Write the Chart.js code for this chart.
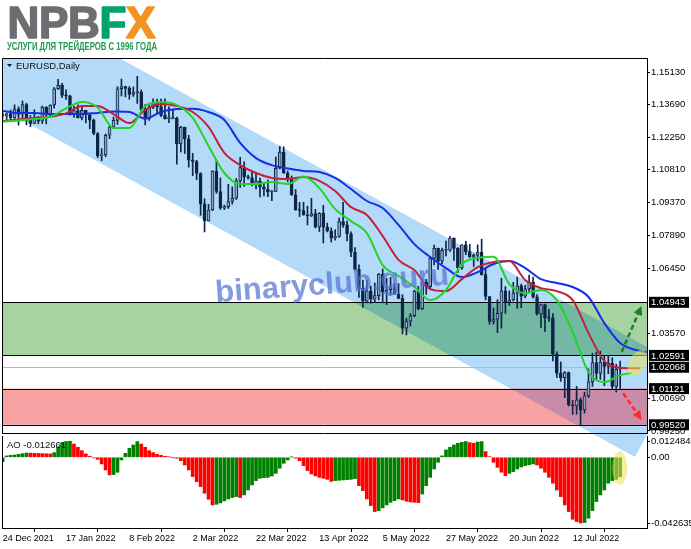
<!DOCTYPE html>
<html>
<head>
<meta charset="utf-8">
<title>EURUSD Daily</title>
<script src="https://cdn.jsdelivr.net/npm/chart.js@4.4.1/dist/chart.umd.min.js"></script>
<style>
  html, body { margin: 0; padding: 0; background: #fff; }
  #wrap { position: relative; width: 691px; height: 549px; overflow: hidden; }
  #wrap canvas { position: absolute; left: 0; top: 0; }
</style>
</head>
<body>
<div id="wrap">
  <canvas id="priceChart" width="691" height="549"></canvas>
  <canvas id="aoChart" width="691" height="549"></canvas>
</div>
<script>
const FONT = '"Liberation Sans", Arial, sans-serif';
Chart.defaults.font.family = FONT;

// x axis: bar index, labels every 16 bars
const dateTickBars = [0, 16, 32, 48, 64, 80, 96, 112, 128, 144];
const dateLabels = ["24 Dec 2021", "17 Jan 2022", "8 Feb 2022", "2 Mar 2022", "22 Mar 2022",
                    "13 Apr 2022", "5 May 2022", "27 May 2022", "20 Jun 2022", "12 Jul 2022"];

const priceTicks = [1.15130, 1.13690, 1.12250, 1.10810, 1.09370, 1.07890, 1.06450, 1.03570, 1.00690, 0.99250];
const levelPrices = [1.04943, 1.02591, 1.02068, 1.01121, 0.99520];

// daily candles, 24 Dec 2021 .. 28 Jul 2022
const opens = [
  1.1328,1.1319,1.1330,1.1311,1.1350,1.1327,1.1370,1.1300,1.1287,1.1313,
  1.1296,1.1359,1.1324,1.1368,1.1440,1.1455,1.1411,1.1408,1.1325,1.1344,
  1.1311,1.1345,1.1325,1.1301,1.1242,1.1143,1.1147,1.1234,1.1271,1.1300,
  1.1440,1.1450,1.1442,1.1415,1.1423,1.1425,1.1349,1.1306,1.1358,1.1374,
  1.1361,1.1322,1.1308,1.1308,1.1309,1.1196,1.1270,1.1218,1.1124,1.1118,
  1.1065,1.0930,1.0855,1.0903,1.1075,1.0985,1.0911,1.0918,1.0941,1.0955,
  1.1032,1.1091,1.1050,1.1046,1.1015,1.1031,1.1005,1.0995,1.0983,1.0985,
  1.1088,1.1160,1.1067,1.1046,1.0970,1.0903,1.0901,1.0881,1.0877,1.0887,
  1.0828,1.0888,1.0827,1.0810,1.0780,1.0786,1.0852,1.0837,1.0798,1.0716,
  1.0640,1.0556,1.0499,1.0545,1.0508,1.0524,1.0619,1.0540,1.0550,1.0560,
  1.0530,1.0512,1.0380,1.0411,1.0435,1.0544,1.0465,1.0584,1.0564,1.0689,
  1.0733,1.0677,1.0725,1.0725,1.0779,1.0733,1.0647,1.0749,1.0719,1.0695,
  1.0703,1.0716,1.0617,1.0520,1.0410,1.0420,1.0446,1.0545,1.0495,1.0505,
  1.0535,1.0567,1.0522,1.0554,1.0584,1.0519,1.0443,1.0484,1.0426,1.0424,
  1.0265,1.0181,1.0161,1.0183,1.0040,1.0035,1.0062,1.0018,1.0080,1.0142,
  1.0228,1.0179,1.0230,1.0211,1.0224,1.0122,1.0198
];
const highs = [
  1.1335,1.1333,1.1346,1.1369,1.1360,1.1386,1.1376,1.1322,1.1347,1.1318,
  1.1364,1.1361,1.1369,1.1445,1.1482,1.1464,1.1435,1.1412,1.1363,1.1369,
  1.1363,1.1345,1.1330,1.1306,1.1246,1.1175,1.1240,1.1274,1.1315,1.1449,
  1.1483,1.1452,1.1450,1.1448,1.1495,1.1435,1.1370,1.1368,1.1395,1.1394,
  1.1394,1.1395,1.1360,1.1346,1.1315,1.1274,1.1270,1.1234,1.1154,1.1123,
  1.1068,1.0953,1.0928,1.1077,1.1121,1.1045,1.0925,1.1017,1.1006,1.1043,
  1.1137,1.1116,1.1058,1.1071,1.1069,1.1045,1.1023,1.1036,1.0990,1.1138,
  1.1185,1.1183,1.1076,1.1054,1.0994,1.0937,1.0937,1.0920,1.0955,1.0906,
  1.0891,1.0924,1.0845,1.0824,1.0816,1.0867,1.0937,1.0854,1.0806,1.0737,
  1.0660,1.0593,1.0593,1.0566,1.0580,1.0622,1.0642,1.0600,1.0605,1.0578,
  1.0577,1.0528,1.0424,1.0444,1.0548,1.0565,1.0598,1.0596,1.0697,1.0748,
  1.0735,1.0735,1.0765,1.0787,1.0780,1.0737,1.0750,1.0765,1.0751,1.0709,
  1.0749,1.0774,1.0645,1.0520,1.0469,1.0506,1.0601,1.0564,1.0545,1.0583,
  1.0606,1.0575,1.0570,1.0615,1.0606,1.0529,1.0486,1.0487,1.0463,1.0445,
  1.0275,1.0230,1.0188,1.0186,1.0060,1.0122,1.0071,1.0097,1.0200,1.0269,
  1.0274,1.0278,1.0257,1.0257,1.0249,1.0220,1.0234
];
const lows = [
  1.1309,1.1302,1.1297,1.1300,1.1279,1.1300,1.1280,1.1272,1.1285,1.1285,
  1.1286,1.1285,1.1314,1.1354,1.1437,1.1401,1.1393,1.1323,1.1313,1.1311,
  1.1302,1.1289,1.1263,1.1236,1.1135,1.1121,1.1139,1.1219,1.1263,1.1282,
  1.1408,1.1404,1.1394,1.1406,1.1375,1.1330,1.1280,1.1300,1.1352,1.1331,
  1.1316,1.1305,1.1290,1.1306,1.1106,1.1160,1.1153,1.1093,1.1055,1.1037,
  1.0880,1.0806,1.0855,1.0900,1.0977,1.0906,1.0905,1.0910,1.0929,1.0950,
  1.1003,1.1008,1.1040,1.1010,1.0996,1.0961,1.0966,1.0962,1.0945,1.0985,
  1.1085,1.1065,1.1028,1.0968,1.0902,1.0874,1.0880,1.0837,1.0874,1.0823,
  1.0808,1.0757,1.0806,1.0761,1.0770,1.0782,1.0826,1.0766,1.0697,1.0636,
  1.0516,1.0472,1.0492,1.0490,1.0494,1.0505,1.0492,1.0484,1.0526,1.0530,
  1.0510,1.0354,1.0350,1.0389,1.0430,1.0461,1.0462,1.0530,1.0555,1.0660,
  1.0640,1.0665,1.0700,1.0720,1.0680,1.0627,1.0640,1.0705,1.0693,1.0653,
  1.0678,1.0615,1.0505,1.0397,1.0398,1.0360,1.0380,1.0445,1.0480,1.0500,
  1.0468,1.0470,1.0514,1.0540,1.0513,1.0437,1.0383,1.0365,1.0410,1.0235,
  1.0162,1.0144,1.0072,1.0035,0.9998,0.9999,0.9952,1.0004,1.0072,1.0122,
  1.0154,1.0153,1.0125,1.0178,1.0111,1.0097,1.0113
];
const closes = [
  1.1322,1.1330,1.1311,1.1350,1.1326,1.1370,1.1299,1.1287,1.1313,1.1296,
  1.1359,1.1324,1.1368,1.1440,1.1455,1.1411,1.1408,1.1325,1.1344,1.1311,
  1.1345,1.1325,1.1301,1.1242,1.1143,1.1147,1.1234,1.1271,1.1300,1.1440,
  1.1450,1.1442,1.1415,1.1423,1.1425,1.1349,1.1306,1.1358,1.1374,1.1361,
  1.1322,1.1308,1.1308,1.1309,1.1196,1.1270,1.1218,1.1124,1.1118,1.1065,
  1.0930,1.0855,1.0903,1.1075,1.0985,1.0911,1.0918,1.0941,1.0955,1.1032,
  1.1091,1.1050,1.1046,1.1015,1.1031,1.1005,1.0995,1.0983,1.0985,1.1088,
  1.1160,1.1067,1.1046,1.0970,1.0903,1.0901,1.0881,1.0877,1.0887,1.0828,
  1.0888,1.0827,1.0810,1.0780,1.0786,1.0852,1.0837,1.0798,1.0716,1.0640,
  1.0556,1.0499,1.0545,1.0508,1.0524,1.0619,1.0540,1.0550,1.0560,1.0530,
  1.0512,1.0380,1.0411,1.0435,1.0544,1.0465,1.0584,1.0564,1.0689,1.0733,
  1.0677,1.0725,1.0725,1.0779,1.0733,1.0647,1.0749,1.0719,1.0695,1.0703,
  1.0716,1.0617,1.0520,1.0410,1.0420,1.0446,1.0545,1.0495,1.0505,1.0535,
  1.0567,1.0522,1.0554,1.0584,1.0519,1.0443,1.0484,1.0426,1.0424,1.0265,
  1.0181,1.0161,1.0183,1.0040,1.0035,1.0062,1.0018,1.0080,1.0142,1.0228,
  1.0179,1.0230,1.0211,1.0224,1.0122,1.0198,1.0207
];

// alligator lines (bar index, price)
const jawBars = [0,4,8,12,16,20,24,28,32,36,40,44,48,52,56,60,64,68,72,76,80,84,88,92,96,100,104,108,112,116,120,124,128,132,136,140,144,148,152,156,160,164];
const jawVals = [1.1342,1.1333,1.1333,1.1328,1.1328,1.1328,1.1333,1.1339,1.1337,1.1308,1.1337,1.1350,1.1352,1.1337,1.1302,1.1200,1.1133,1.1102,1.1087,1.1076,1.1071,1.1045,1.0996,1.0943,1.0912,1.0837,1.0752,1.0695,1.0646,1.0606,1.0628,1.0664,1.0677,1.0646,1.0597,1.0580,1.0562,1.0518,1.0402,1.0314,1.0283,1.0270];
const teethBars = [0,4,8,12,16,20,24,28,32,36,40,44,48,52,56,60,64,68,72,76,80,84,88,92,96,100,104,108,112,116,120,124,128,132,136,140,144,148,152,156,161];
const teethVals = [1.1297,1.1304,1.1311,1.1316,1.1331,1.1364,1.1364,1.1328,1.1288,1.1346,1.1373,1.1364,1.1337,1.1271,1.1156,1.1102,1.1067,1.1045,1.1040,1.1049,1.1032,1.0987,1.0916,1.0881,1.0788,1.0682,1.0637,1.0553,1.0544,1.0597,1.0650,1.0673,1.0677,1.0593,1.0557,1.0544,1.0504,1.0358,1.0234,1.0205,1.0202];
const lipsBars = [0,4,8,12,16,20,24,28,32,36,40,44,48,52,56,60,64,68,72,76,80,84,88,92,96,100,104,108,112,116,120,124,128,132,136,140,144,148,152,156,159];
const lipsVals = [1.1294,1.1300,1.1306,1.1316,1.1353,1.1381,1.1357,1.1266,1.1266,1.1364,1.1381,1.1368,1.1311,1.1187,1.1067,1.1018,1.1018,1.1027,1.1018,1.1051,1.1000,1.0907,1.0854,1.0801,1.0659,1.0611,1.0562,1.0504,1.0549,1.0664,1.0690,1.0696,1.0575,1.0535,1.0549,1.0504,1.0363,1.0185,1.0141,1.0172,1.0181];

// Awesome Oscillator histogram
const aoValues = [
  -0.0028, 0.0009, 0.0013, 0.0015, 0.0019, 0.0024, 0.0028, 0.0027, 0.0026, 0.0025,
   0.0024, 0.0023, 0.0022, 0.0030, 0.0069, 0.0095, 0.0102, 0.0104, 0.0086, 0.0065,
   0.0043, 0.0022, 0.0006,-0.0004,-0.0013,-0.0043,-0.0082,-0.0114,-0.0112,-0.0097,
  -0.0017, 0.0026, 0.0058, 0.0080, 0.0102, 0.0086, 0.0065, 0.0043, 0.0030, 0.0019,
   0.0013, 0.0006, 0.0002,-0.0002,-0.0006,-0.0022,-0.0050,-0.0082,-0.0125,-0.0158,
  -0.0190,-0.0233,-0.0272,-0.0309,-0.0305,-0.0296,-0.0283,-0.0270,-0.0261,-0.0255,
  -0.0261,-0.0244,-0.0212,-0.0179,-0.0151,-0.0136,-0.0132,-0.0130,-0.0121,-0.0104,
  -0.0071,-0.0039,-0.0017, 0.0002,-0.0006,-0.0022,-0.0054,-0.0086,-0.0108,-0.0121,
  -0.0130,-0.0136,-0.0143,-0.0156,-0.0151,-0.0149,-0.0147,-0.0145,-0.0143,-0.0138,
  -0.0184,-0.0216,-0.0270,-0.0313,-0.0352,-0.0346,-0.0328,-0.0309,-0.0292,-0.0281,
  -0.0270,-0.0276,-0.0285,-0.0289,-0.0292,-0.0294,-0.0238,-0.0184,-0.0130,-0.0076,
  -0.0032, 0.0009, 0.0048, 0.0065, 0.0080, 0.0091, 0.0097, 0.0102, 0.0095, 0.0091,
   0.0099, 0.0102, 0.0037, 0.0004,-0.0032,-0.0065,-0.0097,-0.0119,-0.0104,-0.0093,
  -0.0076,-0.0063,-0.0054,-0.0048,-0.0043,-0.0050,-0.0071,-0.0097,-0.0130,-0.0168,
  -0.0212,-0.0255,-0.0309,-0.0352,-0.0402,-0.0417,-0.0426,-0.0423,-0.0395,-0.0346,
  -0.0287,-0.0244,-0.0212,-0.0168,-0.0151,-0.0143,-0.0127
];
// terminal pins the max/min captions inside the window
const aoTicks = [0.0101, 0, -0.042635];
const aoTickLabels = ["0.012484", "0.00", "-0.042635"];

// drawn objects, anchored in (bar, price)
const channelBars = [-13.3, 172.0, 159.75, -13.3];
const channelPrices = [1.1986, 1.02083, 0.98093, 1.14767];
const buyZone = [1.02591, 1.04943];
const sellZone = [0.99520, 1.01121];
const upArrow = { bars: [156.4, 161.4], prices: [1.02756, 1.0478] };
const downArrow = { bars: [156.8, 161.4], prices: [1.00914, 0.99731] };
const markMain = { bar: 160.4, price: 1.02256 };
const markAO = { bar: 155.9, value: -0.0069 };

const X_MIN = -0.177, X_MAX = 162.78;
const Y_MIN = 0.99156, Y_MAX = 1.15763;
const AO_MIN = -0.04585, AO_MAX = 0.01381;

const DARK = "#0e2547";
const bars = opens.map((_, i) => i);

function drawArrow(ctx, x0, y0, x1, y1, color) {
  const ang = Math.atan2(y1 - y0, x1 - x0);
  const head = 9, hw = 4.5;
  const bx = x1 - head * Math.cos(ang), by = y1 - head * Math.sin(ang);
  ctx.save();
  ctx.strokeStyle = color; ctx.lineWidth = 2.5; ctx.setLineDash([5, 3]);
  ctx.beginPath(); ctx.moveTo(x0, y0); ctx.lineTo(bx, by); ctx.stroke();
  ctx.setLineDash([]);
  ctx.fillStyle = color;
  ctx.beginPath(); ctx.moveTo(x1, y1);
  ctx.lineTo(bx + hw * Math.sin(ang), by - hw * Math.cos(ang));
  ctx.lineTo(bx - hw * Math.sin(ang), by + hw * Math.cos(ang));
  ctx.closePath(); ctx.fill();
  ctx.restore();
}

function channelPath(ctx, x, y) {
  ctx.beginPath();
  channelBars.forEach((b, i) => {
    const px = x.getPixelForValue(b), py = y.getPixelForValue(channelPrices[i]);
    if (i) ctx.lineTo(px, py); else ctx.moveTo(px, py);
  });
  ctx.closePath();
}

const priceOverlay = {
  id: "priceOverlay",
  beforeDatasetsDraw(c) {
    const { ctx, chartArea: a, scales: { x, y } } = c;
    ctx.save();
    // channel runs past the bottom of the price window
    ctx.beginPath(); ctx.rect(a.left, a.top, a.right - a.left, c.height - a.top); ctx.clip();
    ctx.fillStyle = "#b3dbf9";
    channelPath(ctx, x, y); ctx.fill();
    ctx.restore();

    ctx.save();
    ctx.beginPath(); ctx.rect(a.left, a.top, a.right - a.left, a.bottom - a.top); ctx.clip();
    const zone = (z, col) => {
      const y0 = y.getPixelForValue(z[1]), y1 = y.getPixelForValue(z[0]);
      ctx.fillStyle = col; ctx.fillRect(a.left, y0, a.right - a.left, y1 - y0);
    };
    zone(buyZone, "#a7d3a1");
    zone(sellZone, "#f8a3a3");
    ctx.save();
    channelPath(ctx, x, y); ctx.clip();
    zone(buyZone, "#72b8a2");
    zone(sellZone, "#c98ca8");
    ctx.restore();
    levelPrices.forEach(p => {
      const py = Math.round(y.getPixelForValue(p)) + 0.5;
      ctx.strokeStyle = p === 1.02068 ? "#b8b8b8" : "#000";
      ctx.lineWidth = 1;
      ctx.beginPath(); ctx.moveTo(a.left, py); ctx.lineTo(a.right, py); ctx.stroke();
    });
    ctx.restore();
  },
  afterDatasetsDraw(c) {
    const { ctx, chartArea: a, scales: { x, y } } = c;
    ctx.save();
    ctx.beginPath(); ctx.rect(a.left, a.top, a.right - a.left, a.bottom - a.top); ctx.clip();
    // watermark
    ctx.save();
    ctx.translate(a.left + (a.right - a.left) * 0.512, a.top + (a.bottom - a.top) * 0.605);
    ctx.rotate(-0.075);
    ctx.font = "bold 31px " + FONT;
    ctx.fillStyle = "rgba(88,115,212,0.72)";
    ctx.textAlign = "center"; ctx.textBaseline = "middle";
    ctx.fillText("binaryclub.guru", 0, 0);
    ctx.restore();
    // highlight
    ctx.fillStyle = "rgba(236,226,90,0.55)";
    ctx.beginPath();
    ctx.ellipse(x.getPixelForValue(markMain.bar), y.getPixelForValue(markMain.price), 8.5, 14, 0.5, 0, Math.PI * 2);
    ctx.fill();
    ctx.restore();
    drawArrow(ctx, x.getPixelForValue(upArrow.bars[0]), y.getPixelForValue(upArrow.prices[0]),
              x.getPixelForValue(upArrow.bars[1]), y.getPixelForValue(upArrow.prices[1]), "#1f7f1f");
    drawArrow(ctx, x.getPixelForValue(downArrow.bars[0]), y.getPixelForValue(downArrow.prices[0]),
              x.getPixelForValue(downArrow.bars[1]), y.getPixelForValue(downArrow.prices[1]), "#ff2b2b");
  },
  afterDraw(c) {
    const { ctx, chartArea: a, scales: { y } } = c;
    ctx.save();
    ctx.strokeStyle = "#000"; ctx.lineWidth = 1;
    ctx.beginPath();
    ctx.moveTo(a.left + 0.5, a.bottom + 0.5); ctx.lineTo(a.left + 0.5, a.top + 0.5); ctx.lineTo(a.right, a.top + 0.5);
    ctx.moveTo(a.left, a.bottom + 0.5); ctx.lineTo(a.right, a.bottom + 0.5);
    ctx.stroke();
    // symbol header
    ctx.fillStyle = "#111";
    ctx.beginPath();
    ctx.moveTo(a.left + 5, a.top + 6); ctx.lineTo(a.left + 10, a.top + 6); ctx.lineTo(a.left + 7.5, a.top + 9);
    ctx.closePath(); ctx.fill();
    ctx.font = "9.5px " + FONT; ctx.textBaseline = "middle";
    ctx.fillText("EURUSD,Daily", a.left + 14, a.top + 8);
    // price tags for the levels
    levelPrices.forEach(p => {
      const py = y.getPixelForValue(p);
      ctx.fillStyle = "#000";
      ctx.fillRect(a.right + 2, py - 5.5, 40, 11);
      ctx.fillStyle = "#fff";
      ctx.fillText(p.toFixed(5), a.right + 4, py + 0.5);
    });
    // logo
    ctx.textBaseline = "alphabetic";
    ctx.font = "bold 44px " + FONT;
    ctx.lineWidth = 1.6; ctx.lineJoin = "round";
    let lx = 7.5;
    [["N", "#6d6e71"], ["P", "#6d6e71"], ["B", "#6d6e71"], ["F", "#00a36e"], ["X", "#f39323"]].forEach(([t, col]) => {
      ctx.fillStyle = col; ctx.strokeStyle = col;
      ctx.fillText(t, lx, 38); ctx.strokeText(t, lx, 38);
      lx += ctx.measureText(t).width - 0.3;
    });
    ctx.font = "bold 11px " + FONT;
    const sub = "УСЛУГИ ДЛЯ ТРЕЙДЕРОВ С 1996 ГОДА";
    const sw = ctx.measureText(sub).width;
    ctx.save();
    ctx.translate(7, 50); ctx.scale(150 / sw, 1);
    ctx.fillStyle = "#1f9a52"; ctx.fillText(sub, 0, 0);
    ctx.restore();
    ctx.restore();
  }
};

new Chart(document.getElementById("priceChart"), {
  type: "bar",
  data: {
    datasets: [
      { type: "line", data: lipsBars.map((b, i) => ({ x: b, y: lipsVals[i] })), borderColor: "#22d42a",
        borderWidth: 2, pointRadius: 0, cubicInterpolationMode: "monotone", order: 0 },
      { type: "line", data: teethBars.map((b, i) => ({ x: b, y: teethVals[i] })), borderColor: "#c4203a",
        borderWidth: 2, pointRadius: 0, cubicInterpolationMode: "monotone", order: 1 },
      { type: "line", data: jawBars.map((b, i) => ({ x: b, y: jawVals[i] })), borderColor: "#1430e6",
        borderWidth: 2, pointRadius: 0, cubicInterpolationMode: "monotone", order: 2 },
      { data: bars.map(i => ({ x: i, y: [opens[i], closes[i]] })),
        backgroundColor: bars.map(i => closes[i] >= opens[i] ? "#8ea7c6" : DARK),
        borderColor: DARK, borderWidth: 1, borderSkipped: false, barThickness: 3, minBarLength: 1,
        grouped: false, order: 3 },
      { data: bars.map(i => ({ x: i, y: [lows[i], highs[i]] })),
        backgroundColor: DARK, barThickness: 1, grouped: false, order: 4 }
    ]
  },
  options: {
    responsive: false, animation: false, events: [],
    layout: { padding: { left: 2, top: 58, right: 0, bottom: 116 } },
    plugins: { legend: { display: false }, tooltip: { enabled: false } },
    scales: {
      x: { type: "linear", min: X_MIN, max: X_MAX, offset: false, display: false },
      y: {
        position: "right", min: Y_MIN, max: Y_MAX, offset: false, beginAtZero: false,
        afterBuildTicks: s => { s.ticks = priceTicks.map(v => ({ value: v })); },
        afterFit: s => { s.width = 44; },
        ticks: { color: "#000", font: { size: 9.5 }, padding: 1, callback: v => v.toFixed(5) },
        grid: { drawOnChartArea: false, drawTicks: true, tickLength: 3, color: "#000" },
        border: { display: true, color: "#000" }
      }
    }
  },
  plugins: [priceOverlay]
});

const aoOverlay = {
  id: "aoOverlay",
  afterDatasetsDraw(c) {
    const { ctx, chartArea: a, scales: { x, y } } = c;
    ctx.save();
    ctx.beginPath(); ctx.rect(a.left, a.top, a.right - a.left, a.bottom - a.top); ctx.clip();
    ctx.fillStyle = "rgba(236,226,90,0.55)";
    ctx.beginPath();
    ctx.ellipse(x.getPixelForValue(markAO.bar), y.getPixelForValue(markAO.value), 7.5, 17, 0, 0, Math.PI * 2);
    ctx.fill();
    ctx.restore();
  },
  afterDraw(c) {
    const { ctx, chartArea: a } = c;
    ctx.save();
    ctx.strokeStyle = "#000"; ctx.lineWidth = 1;
    ctx.beginPath(); ctx.moveTo(a.left + 0.5, a.top); ctx.lineTo(a.left + 0.5, a.bottom); ctx.stroke();
    ctx.fillStyle = "#111"; ctx.font = "9.5px " + FONT; ctx.textBaseline = "middle";
    ctx.fillText("AO -0.012661", a.left + 5, a.top + 9);
    ctx.restore();
  }
};

new Chart(document.getElementById("aoChart"), {
  type: "bar",
  data: {
    datasets: [{
      data: bars.map(i => ({ x: i, y: aoValues[i] })),
      backgroundColor: bars.map(i => (i === 0 || aoValues[i] >= aoValues[i - 1]) ? "#008000" : "#ff0000"),
      barThickness: 3, grouped: false
    }]
  },
  options: {
    responsive: false, animation: false, events: [],
    layout: { padding: { left: 2, top: 436, right: 0, bottom: 0 } },
    plugins: { legend: { display: false }, tooltip: { enabled: false } },
    scales: {
      x: {
        type: "linear", min: X_MIN, max: X_MAX, offset: false, position: "bottom",
        afterBuildTicks: s => { s.ticks = dateTickBars.map(v => ({ value: v })); },
        afterFit: s => { s.height = 21; },
        ticks: { color: "#000", font: { size: 9 }, padding: 1, align: "start", autoSkip: false, maxRotation: 0,
                 callback: v => dateLabels[dateTickBars.indexOf(v)] },
        grid: { drawOnChartArea: false, drawTicks: true, tickLength: 4, color: "#000" },
        border: { display: true, color: "#000" }
      },
      y: {
        position: "right", min: AO_MIN, max: AO_MAX, offset: false, beginAtZero: false,
        afterBuildTicks: s => { s.ticks = aoTicks.map(v => ({ value: v })); },
        afterFit: s => { s.width = 44; },
        ticks: { color: "#000", font: { size: 9.5 }, padding: 1,
                 callback: v => aoTickLabels[aoTicks.indexOf(v)] },
        grid: { drawOnChartArea: false, drawTicks: true, tickLength: 3, color: "#000" },
        border: { display: true, color: "#000" }
      }
    }
  },
  plugins: [aoOverlay]
});
</script>
</body>
</html>
